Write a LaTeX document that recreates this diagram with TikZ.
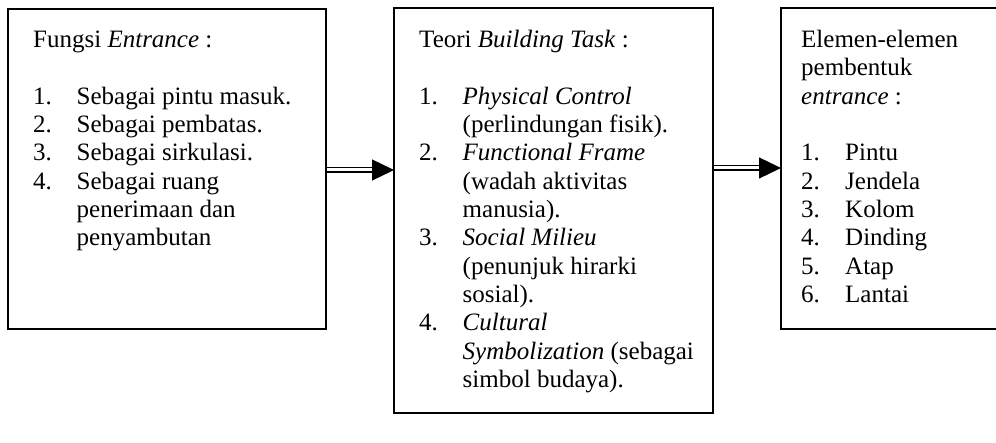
\documentclass[tikz,border=0pt]{standalone}
\usepackage{fontspec}
\setmainfont{Liberation Serif}
\usetikzlibrary{arrows.meta}
\begin{document}
\begin{tikzpicture}[x=1pt,y=-1pt,
  panel/.style={draw, line width=1.5pt, inner sep=0pt, outer sep=0pt, anchor=north west},
  body/.style={anchor=base west, inner sep=0pt, font=\fontsize{25}{28.35}\selectfont},
  flow/.style={double, double distance=3pt, line width=1.3pt, shorten <=0.8pt,
    -{Triangle[length=22pt,width=21pt]}}]
\useasboundingbox[fill=white] (0,0) rectangle (996,443);
% boxes
\node[panel, minimum width=318pt, minimum height=320pt] (fungsi) at (8,9) {};
\node[panel, minimum width=319pt, minimum height=405pt] (teori) at (394,8) {};
\node[panel, minimum width=240pt, minimum height=321pt] (elemen) at (781,8) {};
% texts
\node[body] (fungsitext) at (33,47.5) {\begin{tabular}[t]{@{}p{43.5pt}@{}l@{}}
\multicolumn{2}{@{}l@{}}{Fungsi \textit{Entrance} :}\\
\\
1. & Sebagai pintu masuk.\\
2. & Sebagai pembatas.\\
3. & Sebagai sirkulasi.\\
4. & Sebagai ruang\\
   & penerimaan dan\\
   & penyambutan
\end{tabular}};
\node[body] (teoritext) at (419,47.5) {\begin{tabular}[t]{@{}p{43.5pt}@{}l@{}}
\multicolumn{2}{@{}l@{}}{Teori \textit{Building Task} :}\\
\\
1. & \textit{Physical Control}\\
   & (perlindungan fisik).\\
2. & \textit{Functional Frame}\\
   & (wadah aktivitas\\
   & manusia).\\
3. & \textit{Social Milieu}\\
   & (penunjuk hirarki\\
   & sosial).\\
4. & \textit{Cultural}\\
   & \textit{Symbolization} (sebagai\\
   & simbol budaya).
\end{tabular}};
\node[body] (elementext) at (801,47.5) {\begin{tabular}[t]{@{}p{44pt}@{}l@{}}
\multicolumn{2}{@{}l@{}}{Elemen-elemen}\\
\multicolumn{2}{@{}l@{}}{pembentuk}\\
\multicolumn{2}{@{}l@{}}{\textit{entrance} :}\\
\\
1. & Pintu\\
2. & Jendela\\
3. & Kolom\\
4. & Dinding\\
5. & Atap\\
6. & Lantai
\end{tabular}};
% connectors
\draw[flow] (fungsi.east |- 0,170) -- (teori.west |- 0,170);
\draw[flow] (teori.east |- 0,168) -- (elemen.west |- 0,168);
\end{tikzpicture}
\end{document}
